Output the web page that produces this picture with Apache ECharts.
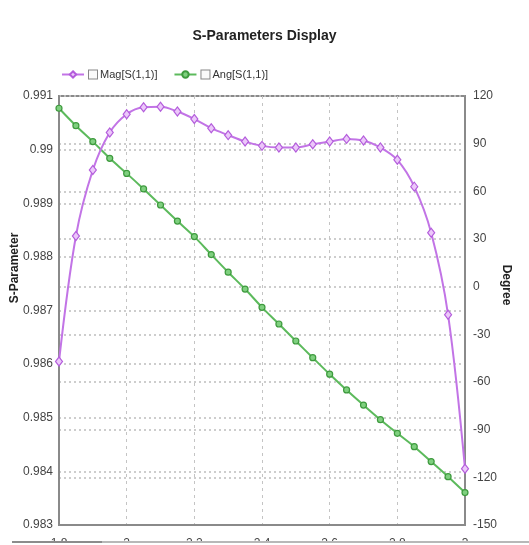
<!DOCTYPE html>
<html>
<head>
<meta charset="utf-8">
<title>S-Parameters Display</title>
<script src="https://cdn.jsdelivr.net/npm/echarts@6/dist/echarts.min.js"></script>
<style>
  html, body { margin: 0; padding: 0; background: #fff; }
  #chart { width: 529px; height: 545px; }
</style>
</head>
<body>
<div id="chart"></div>
<script>
// Frequency sweep (GHz)
const freqGHz = [1.8, 1.85, 1.9, 1.95, 2.0, 2.05, 2.1, 2.15, 2.2, 2.25, 2.3, 2.35, 2.4,
                 2.45, 2.5, 2.55, 2.6, 2.65, 2.7, 2.75, 2.8, 2.85, 2.9, 2.95, 3.0];

// |S11| magnitude
const magS11 = [0.98605, 0.98839, 0.98962, 0.99032, 0.99066, 0.99079, 0.99080, 0.99071,
                0.99057, 0.99040, 0.99027, 0.99015, 0.99007, 0.99004, 0.99004, 0.99010,
                0.99015, 0.99020, 0.99017, 0.99004, 0.98981, 0.98931, 0.98845, 0.98692,
                0.98405];

// S11 phase (degrees)
const angS11 = [112.3, 101.3, 91.3, 80.8, 71.3, 61.5, 51.4, 41.3, 31.5, 20.2, 9.1, -1.5,
                -13.0, -23.5, -34.2, -44.7, -55.1, -65.0, -74.5, -83.7, -92.3, -100.7,
                -110.1, -119.6, -129.6];

const seriesNames = ['Mag[S(1,1)]', 'Ang[S(1,1)]'];

// Axis ranges: [min, max, interval]
const freqRange = [1.8, 3.0, 0.2];
const magRange = [0.983, 0.991, 0.001];
const degRange = [-150, 120, 30];

const FONT = "'Liberation Sans Narrow', 'Arial Narrow', 'Liberation Sans', Arial, sans-serif";
const MAG_COLOR = '#c274e6';
const ANG_COLOR = '#5cba5c';
const FRAME = '#8a8a8a';

const chart = echarts.init(document.getElementById('chart'), null, { renderer: 'canvas' });

const option = {
  animation: false,
  backgroundColor: '#fff',
  textStyle: { fontFamily: FONT },
  title: {
    text: 'S-Parameters Display',
    left: 'center',
    top: 24,
    textStyle: { fontFamily: FONT, fontSize: 14, fontWeight: 'bold', color: '#222' }
  },
  legend: {
    left: 56,
    top: 64,
    itemGap: 16,
    itemWidth: 22,
    itemHeight: 8,
    data: seriesNames,
    formatter: name => '{box|}{t|' + name + '}',
    textStyle: {
      fontFamily: FONT,
      fontSize: 11,
      color: '#333',
      rich: {
        box: { width: 8, height: 8, borderColor: '#888', borderWidth: 1, backgroundColor: '#fafafa' },
        t: { fontFamily: FONT, fontSize: 11, color: '#333', padding: [0, 0, 0, 3] }
      }
    }
  },
  grid: {
    left: 59, right: 64, top: 96, bottom: 20,
    containLabel: false,
    outerBoundsMode: 'none',
    show: true, borderColor: FRAME, borderWidth: 2, backgroundColor: '#fff'
  },
  xAxis: {
    type: 'value',
    min: freqRange[0], max: freqRange[1], interval: freqRange[2],
    axisLine: { show: true, onZero: false, lineStyle: { color: FRAME, width: 2 } },
    axisTick: { show: false },
    axisLabel: {
      margin: 13, fontFamily: FONT, fontSize: 12, color: '#444',
      formatter: v => String(+v.toFixed(2))
    },
    splitLine: { show: true, lineStyle: { type: [3, 4], color: '#c4c4c4', width: 1 } }
  },
  yAxis: [
    {
      type: 'value', position: 'left',
      min: magRange[0], max: magRange[1], interval: magRange[2],
      axisLine: { show: true, onZero: false, lineStyle: { color: FRAME, width: 2 } },
      axisTick: { show: false },
      axisLabel: {
        margin: 6, fontFamily: FONT, fontSize: 12, color: '#444',
        formatter: v => String(+v.toFixed(3))
      },
      splitLine: { show: true, lineStyle: { type: [2, 3], color: '#bdbdbd', width: 1.5 } }
    },
    {
      type: 'value', position: 'right',
      min: degRange[0], max: degRange[1], interval: degRange[2],
      axisLine: { show: true, onZero: false, lineStyle: { color: FRAME, width: 2 } },
      axisTick: { show: false },
      axisLabel: {
        margin: 8, fontFamily: FONT, fontSize: 12, color: '#444',
        formatter: v => String(Math.round(v))
      },
      splitLine: { show: true, lineStyle: { type: [2, 3], color: '#bdbdbd', width: 1.5 } }
    }
  ],
  series: [
    {
      name: seriesNames[0],
      type: 'line',
      yAxisIndex: 0,
      smooth: 0.35,
      data: freqGHz.map((f, i) => [f, magS11[i]]),
      symbol: 'diamond',
      symbolSize: [7, 9],
      showAllSymbol: true,
      lineStyle: { color: MAG_COLOR, width: 2 },
      itemStyle: { color: '#ecc8fa', borderColor: '#b45ddc', borderWidth: 1.2 },
      z: 3
    },
    {
      name: seriesNames[1],
      type: 'line',
      yAxisIndex: 1,
      smooth: 0.35,
      data: freqGHz.map((f, i) => [f, angS11[i]]),
      symbol: 'circle',
      symbolSize: 6,
      showAllSymbol: true,
      lineStyle: { color: ANG_COLOR, width: 2 },
      itemStyle: { color: '#7fd07f', borderColor: '#3e9a3e', borderWidth: 1.2 },
      z: 2
    }
  ],
  graphic: [
    {
      type: 'text', x: 15, y: 268, rotation: Math.PI / 2,
      style: { text: 'S-Parameter', fontFamily: FONT, fontSize: 12, fontWeight: 'bold',
               fill: '#222', align: 'center', verticalAlign: 'middle' }
    },
    {
      type: 'text', x: 506, y: 285, rotation: -Math.PI / 2,
      style: { text: 'Degree', fontFamily: FONT, fontSize: 12, fontWeight: 'bold',
               fill: '#222', align: 'center', verticalAlign: 'middle' }
    },
    // window edge along the bottom that trims the frequency labels
    { type: 'rect', z: 100, shape: { x: 0, y: 543, width: 529, height: 4 }, style: { fill: '#fff' } },
    { type: 'rect', z: 101, shape: { x: 12, y: 541, width: 517, height: 2 }, style: { fill: '#b8b8b8' } },
    { type: 'rect', z: 102, shape: { x: 12, y: 541, width: 90, height: 2 }, style: { fill: '#8c8c8c' } }
  ]
};

chart.setOption(option);
</script>
</body>
</html>
